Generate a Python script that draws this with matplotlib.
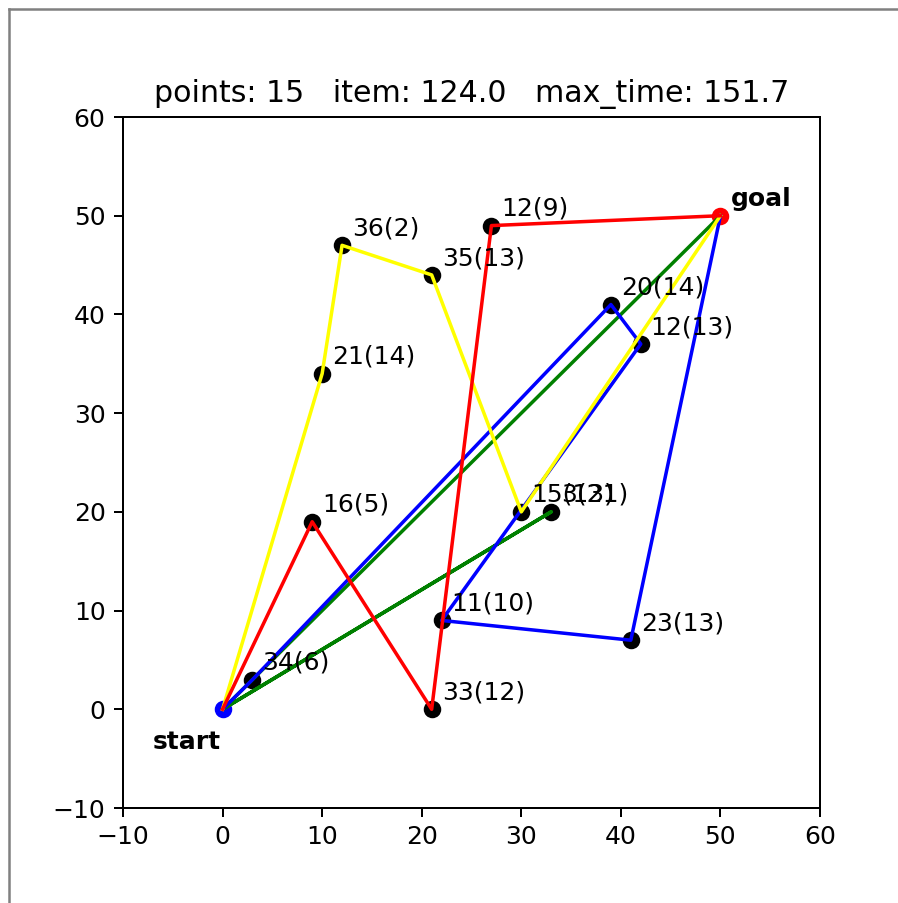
import matplotlib
matplotlib.use('Agg')
import matplotlib.pyplot as plt
from matplotlib.lines import Line2D

# start / goal
start = (0, 0)
goal = (50, 50)

# visited points
point_x = [3, 9, 21, 27, 12, 21, 10, 39, 42, 22, 41, 30, 33]
point_y = [3, 19, 0, 49, 47, 44, 34, 41, 37, 9, 7, 20, 20]
point_labels = ['34(6)', '16(5)', '33(12)', '12(9)', '36(2)', '35(13)', '21(14)',
                '20(14)', '12(13)', '11(10)', '23(13)', '15(13)', '3(21)']

# routes as point indices, 'S' = start, 'G' = goal
route_green = ['S', 12, 'S', 'G']
route_blue = ['S', 0, 7, 8, 9, 10, 'G']
route_yellow = ['S', 6, 4, 5, 11, 'G']
route_red = ['S', 1, 2, 3, 'G']
routes = [(route_green, 'green'), (route_blue, 'blue'),
          (route_yellow, 'yellow'), (route_red, 'red')]

title = 'points: 15   item: 124.0   max_time: 151.7'


def coords(route):
    xs, ys = [], []
    for p in route:
        if p == 'S':
            xs.append(start[0]); ys.append(start[1])
        elif p == 'G':
            xs.append(goal[0]); ys.append(goal[1])
        else:
            xs.append(point_x[p]); ys.append(point_y[p])
    return xs, ys


W, H, DPI = 898, 903, 180
fig = plt.figure(figsize=(W / DPI, H / DPI), dpi=DPI)
ax = fig.add_axes([123 / W, 1 - 808 / H, (820 - 123) / W, (808 - 117) / H])

ax.scatter(point_x, point_y, c='black', zorder=2)
ax.scatter([start[0]], [start[1]], c='blue', zorder=2)
ax.scatter([goal[0]], [goal[1]], c='red', zorder=2)

for route, color in routes:
    xs, ys = coords(route)
    ax.plot(xs, ys, color=color, lw=1.4, zorder=3)

for x, y, lab in zip(point_x, point_y, point_labels):
    ax.text(x + 1, y + 1, lab)

ax.text(start[0] - 7, start[1] - 4, 'start', fontweight='bold')
ax.text(goal[0] + 1, goal[1] + 1, 'goal', fontweight='bold')

ax.set_xlim(-10, 60)
ax.set_ylim(-10, 60)
ax.set_title(title)

# screenshot frame on left/top
fig.add_artist(Line2D([9 / W, 9 / W], [0, 1 - 9 / H], transform=fig.transFigure,
                      color='#808080', lw=1.0))
fig.add_artist(Line2D([9 / W, 1], [1 - 9 / H, 1 - 9 / H], transform=fig.transFigure,
                      color='#808080', lw=1.0))

fig.savefig('out.png', dpi=DPI)
